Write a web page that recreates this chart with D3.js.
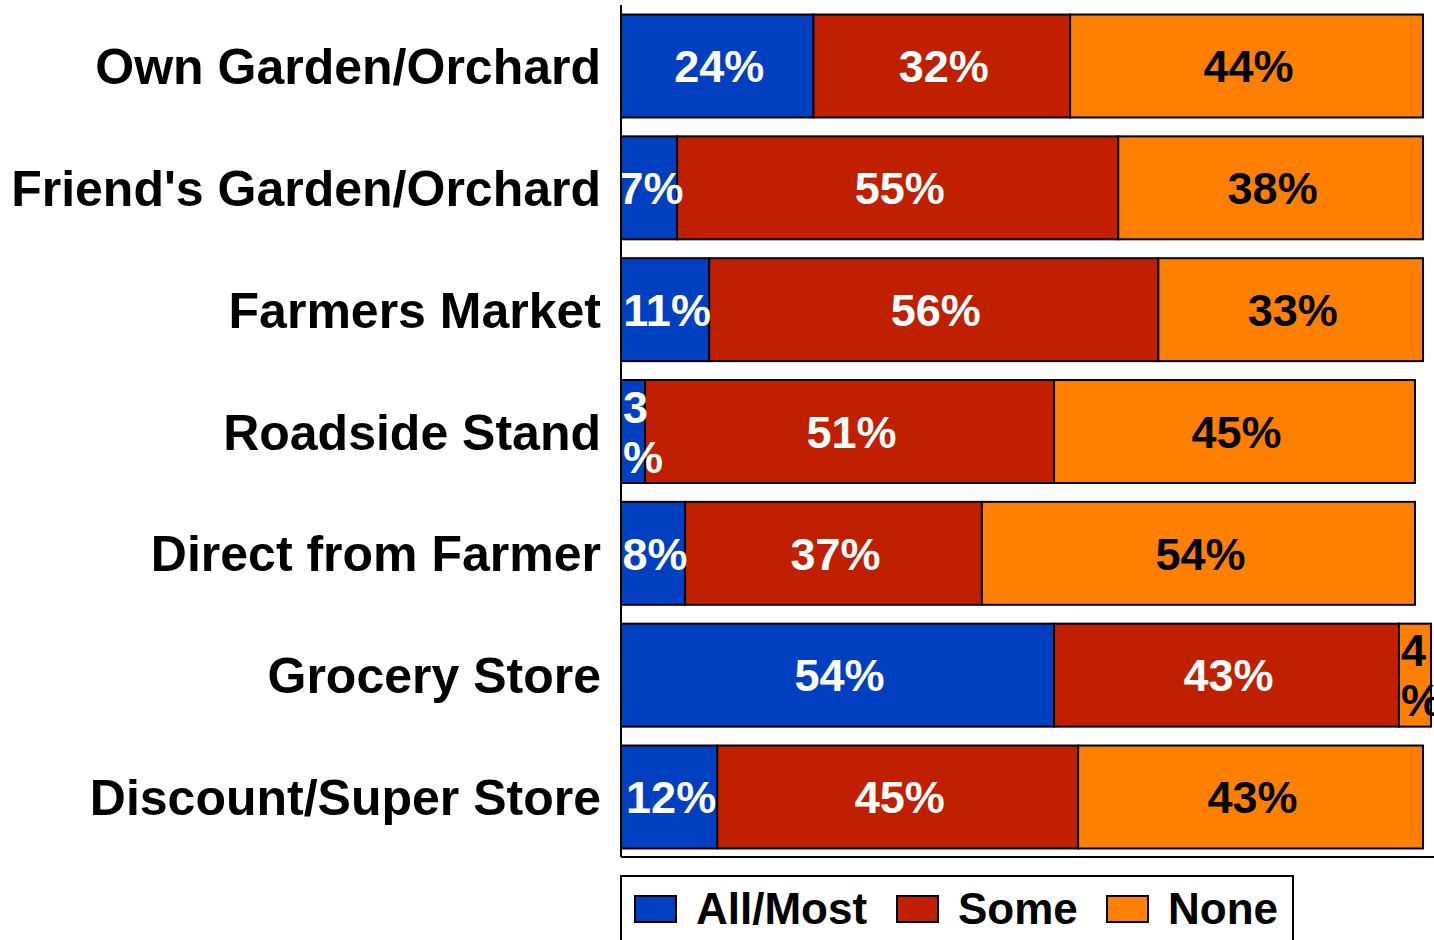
<!doctype html>
<html lang="en">
<head>
<meta charset="UTF-8">
<title>Produce sources</title>
<style>
  body { margin: 0; background: #fff; }
  svg { display: block; font-family: "Liberation Sans", Arial, sans-serif; font-weight: bold; }
</style>
</head>
<body>
<div id="chart"></div>
<script src="https://d3js.org/d3.v7.min.js"></script>
<script>
    const categories = ['Own Garden/Orchard', "Friend's Garden/Orchard", 'Farmers Market',
        'Roadside Stand', 'Direct from Farmer', 'Grocery Store', 'Discount/Super Store']
    const seriesNames = ['All/Most', 'Some', 'None']
    const allMost = [24, 7, 11, 3, 8, 54, 12]
    const some = [32, 55, 56, 51, 37, 43, 45]
    const none = [44, 38, 33, 45, 54, 4, 43]
    const colors = ['#0040C0', '#C02000', '#FF8000']
    const labelColors = ['#fff', '#fff', '#000']

    const W = 1434, H = 940
    const margin = { top: 6, right: 0, bottom: 83, left: 621 }
    const width = W - margin.left - margin.right
    const height = H - margin.top - margin.bottom

    const rows = categories.map((c, i) => {
        let x0 = 0
        return [allMost[i], some[i], none[i]].map((v, s) => {
            const seg = { cat: c, s: s, v: v, x0: x0, x1: x0 + v }
            x0 += v
            return seg
        })
    })
    const flat = rows.flat()

    const svg = d3.select('#chart').append('svg')
        .attr('width', W).attr('height', H)
    const g = svg.append('g')
        .attr('transform', 'translate(' + margin.left + ',' + margin.top + ')')

    // 0..100 ends at x=1423
    const x = d3.scaleLinear().domain([0, 100]).range([0, 802])
    const y = d3.scaleBand().domain(categories).range([0, height]).paddingInner(0.155).paddingOuter(0.07)

    g.append('g').selectAll('rect').data(flat).enter().append('rect')
        .attr('x', d => x(d.x0))
        .attr('y', d => y(d.cat))
        .attr('width', d => x(d.x1) - x(d.x0))
        .attr('height', y.bandwidth())
        .attr('fill', d => colors[d.s])
        .attr('stroke', '#000')
        .attr('stroke-width', 2)

    // value labels, drawn on top of all bars
    const fs = 45
    const labels = g.append('g')
    flat.forEach(d => {
        const txt = d.v + '%'
        const w = x(d.x1) - x(d.x0)
        const cy = y(d.cat) + y.bandwidth() / 2
        const t = labels.append('text')
            .attr('fill', labelColors[d.s])
            .attr('font-size', fs)
        if (w >= 50) {
            t.attr('x', x(d.x0) + w / 2 + 2).attr('y', cy + fs * 0.36)
                .attr('text-anchor', 'middle').text(txt)
        } else {
            // too narrow: wrap one character per line
            const parts = [String(d.v), '%']
            parts.forEach((p, k) => {
                t.append('tspan')
                    .attr('x', x(d.x0) + 2)
                    .attr('y', cy + fs * 0.36 + (k - (parts.length - 1) / 2) * 50)
                    .text(p)
            })
        }
    })

    // category labels
    g.selectAll('text.cat').data(categories).enter().append('text')
        .attr('class', 'cat')
        .attr('x', -20)
        .attr('y', d => y(d) + y.bandwidth() / 2 + 50 * 0.36)
        .attr('text-anchor', 'end')
        .attr('font-size', 50)
        .attr('fill', '#000')
        .text(d => d)

    // axis lines
    g.append('line').attr('x1', 0).attr('x2', 0).attr('y1', -1).attr('y2', height)
        .attr('stroke', '#000').attr('stroke-width', 2)
    g.append('line').attr('x1', 0).attr('x2', width).attr('y1', height).attr('y2', height)
        .attr('stroke', '#000').attr('stroke-width', 2)

    // legend
    const lg = svg.append('g').attr('transform', 'translate(621,876)')
    lg.append('rect').attr('x', 0).attr('y', 0).attr('width', 672).attr('height', 80)
        .attr('fill', '#fff').attr('stroke', '#000').attr('stroke-width', 2)
    const legX = [14, 276, 486]
    seriesNames.forEach((n, i) => {
        lg.append('rect').attr('x', legX[i]).attr('y', 20).attr('width', 41).attr('height', 26)
            .attr('fill', colors[i]).attr('stroke', '#000').attr('stroke-width', 2)
        lg.append('text').attr('x', legX[i] + 61).attr('y', 48)
            .attr('font-size', 44).attr('fill', '#000').text(n)
    })
</script>
</body>
</html>
